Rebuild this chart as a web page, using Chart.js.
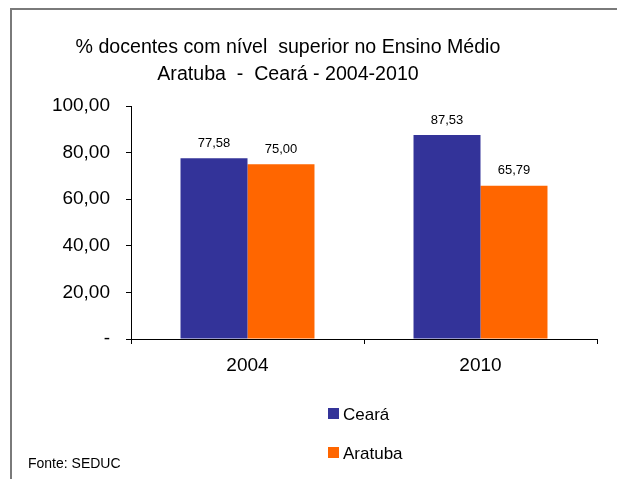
<!DOCTYPE html>
<html>
<head>
<meta charset="utf-8">
<script src="https://cdn.jsdelivr.net/npm/chart.js@4/dist/chart.umd.min.js"></script>
<style>
  body { margin: 0; background: #fff; }
  #wrap { position: relative; width: 617px; height: 479px; overflow: hidden; font-family: "Liberation Sans", Arial, sans-serif; color: #000; }
  #frame { position: absolute; left: 10px; top: 8px; width: 700px; height: 600px; border-left: 2px solid #7a7a7a; border-top: 2px solid #7a7a7a; }
  #chart { position: absolute; left: 0; top: 0; }
  .title { position: absolute; left: 0; width: 576px; text-align: center; font-size: 19.6px; white-space: pre; }
  .leg { position: absolute; left: 328px; font-size: 17px; height: 20px; line-height: 20px; }
  .leg i { position: absolute; left: 0; top: 4px; width: 11px; height: 11px; }
  .leg span { position: absolute; left: 15px; top: 1px; white-space: nowrap; }
  #fonte { position: absolute; left: 28px; top: 455px; font-size: 14px; }
</style>
</head>
<body>
<div id="wrap">
  <div id="frame"></div>
  <canvas id="chart" width="617" height="479"></canvas>
  <div class="title" style="top:35px">% docentes com nível  superior no Ensino Médio</div>
  <div class="title" style="top:62px">Aratuba  -  Ceará - 2004-2010</div>
  <div id="legend"></div>
  <div id="fonte">Fonte: SEDUC</div>
</div>
<script>
// dados
const years = ["2004", "2010"];
const ceara = [77.58, 87.53];
const aratuba = [75.00, 65.79];
const seriesNames = ["Ceará", "Aratuba"];
const colors = ["#333399", "#FF6600"];

function fmt(v) {
  return v.toFixed(2).replace(".", ",");
}

// rotulos de valor em cima das barras
const valueLabels = {
  id: "valueLabels",
  afterDatasetsDraw(chart) {
    const ctx = chart.ctx;
    ctx.save();
    ctx.font = '13px "Liberation Sans", Arial, sans-serif';
    ctx.fillStyle = "#000";
    ctx.textAlign = "center";
    ctx.textBaseline = "middle";
    chart.data.datasets.forEach(function(ds, i) {
      chart.getDatasetMeta(i).data.forEach(function(bar, j) {
        ctx.fillText(fmt(ds.data[j]), bar.x, bar.y - 15);
      });
    });
    ctx.restore();
  }
};

const ctx = document.getElementById("chart").getContext("2d");
const chart = new Chart(ctx, {
  type: "bar",
  data: {
    labels: years,
    datasets: [
      { label: seriesNames[0], data: ceara, backgroundColor: colors[0] },
      { label: seriesNames[1], data: aratuba, backgroundColor: colors[1] }
    ]
  },
  options: {
    responsive: false,
    animation: false,
    events: [],
    layout: { padding: { left: 0, right: 20, top: 106, bottom: 0 } },
    datasets: { bar: { categoryPercentage: 0.575, barPercentage: 1 } },
    plugins: {
      legend: { display: false },
      title: { display: false },
      tooltip: { enabled: false }
    },
    scales: {
      x: {
        afterFit: function(s) { s.height = 140; },
        border: { color: "#000", width: 1 },
        grid: { drawOnChartArea: false, drawTicks: true, tickLength: 5, color: "#000" },
        ticks: { color: "#000", padding: 10, font: { family: '"Liberation Sans", Arial, sans-serif', size: 19 } }
      },
      y: {
        min: 0,
        max: 100,
        afterFit: function(s) { s.width = 131; },
        border: { color: "#000", width: 1 },
        grid: { drawOnChartArea: false, drawTicks: true, tickLength: 5, color: "#000" },
        ticks: {
          stepSize: 20,
          color: "#000",
          padding: 16,
          font: { family: '"Liberation Sans", Arial, sans-serif', size: 19 },
          callback: function(v) { return v === 0 ? "-" : fmt(v); }
        }
      }
    }
  },
  plugins: [valueLabels]
});

// legenda vertical
const legend = document.getElementById("legend");
chart.data.datasets.forEach(function(ds, i) {
  const item = document.createElement("div");
  item.className = "leg";
  item.style.top = (404 + i * 39) + "px";
  item.innerHTML = '<i style="background:' + ds.backgroundColor + '"></i><span>' + ds.label + '</span>';
  legend.appendChild(item);
});
</script>
</body>
</html>
